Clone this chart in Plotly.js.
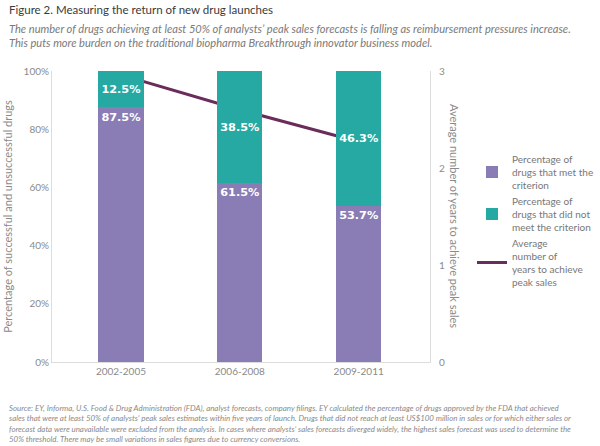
<!DOCTYPE html>
<html><head><meta charset="utf-8">
<script src="https://cdn.plot.ly/plotly-3.0.1.min.js"></script>
<style>body{margin:0;background:#fff}#c{width:600px;height:446px}</style>
</head><body><div id="c"></div>
<script>
const categories = ['2002-2005', '2006-2008', '2009-2011'];
const metCriterion = [87.5, 61.5, 53.7];
const notMetCriterion = [12.5, 38.5, 46.3];
const avgYears = [2.96, 2.6, 2.27];
const leftTicks = [0, 20, 40, 60, 80, 100];
const rightTicks = [0, 1, 2, 3];

const purple = '#8a7db6', teal = '#26a9a2', plum = '#6a2c5a';
const gray = '#8a8a8a';
const T = 71, B = 84, L = 52, R = 170, H = 446;
const ph = H - T - B;
function py(Y){ return (H - B - Y) / ph; }
function px(X){ return (X - L) / (600 - L - R); }

const barFont = {family:'DejaVu Sans', size:12, color:'#fff', weight:'bold'};
const traces = [
  {type:'bar', x:categories, y:metCriterion, yaxis:'y2', name:'Percentage of<br>drugs that met the<br>criterion',
   marker:{color:purple}, width:0.38, text:metCriterion.map(v=>v.toFixed(1)+'%'), textposition:'inside',
   textangle:0, insidetextanchor:'end', textfont:barFont, hoverinfo:'skip'},
  {type:'bar', x:categories, y:notMetCriterion, yaxis:'y2', name:'Percentage of<br>drugs that did not<br>meet the criterion',
   marker:{color:teal}, width:0.38, text:notMetCriterion.map(v=>v.toFixed(1)+'%'), textposition:'inside',
   textangle:0, insidetextanchor:'middle', textfont:barFont, hoverinfo:'skip'},
  {type:'scatter', mode:'lines', x:categories, y:avgYears, yaxis:'y', name:'Average<br>number of<br>years to achieve<br>peak sales',
   line:{color:plum, width:3}, hoverinfo:'skip'}
];

const layout = {
  width:600, height:446, margin:{l:L, r:R, t:T, b:B, autoexpand:false},
  paper_bgcolor:'#fff', plot_bgcolor:'#fff', barmode:'stack',
  font:{family:'Lato, Open Sans, sans-serif', color:gray, size:10},
  showlegend:true,
  legend:{x:px(472), y:py(146), xanchor:'left', yanchor:'top', font:{size:10, color:'#777'},
          traceorder:'normal', tracegroupgap:6, itemwidth:30, bgcolor:'rgba(0,0,0,0)'},
  xaxis:{type:'category', range:[-0.58, 2.6], showgrid:false, showline:true, linecolor:'#dddddd', linewidth:1,
         ticks:'', tickfont:{size:10, color:gray}, zeroline:false},
  yaxis:{side:'right', range:[0,3], tickvals:rightTicks, ticktext:rightTicks.map(String), showgrid:false,
         showline:true, linecolor:'#dddddd', linewidth:1, ticks:'', ticklabelstandoff:6, zeroline:false,
         tickfont:{size:10, color:gray}},
  yaxis2:{overlaying:'y', side:'left', range:[0,100], tickvals:leftTicks, ticktext:leftTicks.map(v=>v+'%'),
          showgrid:false, showline:true, linecolor:'#dddddd', linewidth:1, ticks:'', zeroline:false,
          tickfont:{size:10, color:gray},
          title:{text:'Percentage of successful and unsuccessful drugs', font:{size:11, color:gray}, standoff:8}},
  annotations:[
    {xref:'paper', yref:'paper', x:px(7), y:py(9), xanchor:'left', yanchor:'middle', showarrow:false,
     text:'Figure 2. Measuring the return of new drug launches', font:{size:11.5, color:'#3a3a3a'}},
    {xref:'paper', yref:'paper', x:px(7), y:py(35), xanchor:'left', yanchor:'middle', showarrow:false, align:'left',
     text:'<i>The number of drugs achieving at least 50% of analysts\u2019 peak sales forecasts is falling as reimbursement pressures increase.<br>This puts more burden on the traditional biopharma Breakthrough innovator business model.</i>',
     font:{size:11.1, color:'#7a7a7a'}},
    {xref:'paper', yref:'paper', x:px(455), y:py(216), xanchor:'center', yanchor:'middle', showarrow:false, textangle:90,
     text:'Average number of years to achieve peak sales', font:{size:11, color:gray}},
    {xref:'paper', yref:'paper', x:px(7), y:py(423), xanchor:'left', yanchor:'middle', showarrow:false, align:'left',
     text:'<i>Source: EY, Informa, U.S. Food &amp; Drug Administration (FDA), analyst forecasts, company filings. EY calculated the percentage of drugs approved by the FDA that achieved<br>sales that were at least 50% of analysts\u2019 peak sales estimates within five years of launch. Drugs that did not reach at least US$100 million in sales or for which either sales or<br>forecast data were unavailable were excluded from the analysis. In cases where analysts\u2019 sales forecasts diverged widely, the highest sales forecast was used to determine the<br>50% threshold. There may be small variations in sales figures due to currency conversions.</i>',
     font:{size:7.9, color:'#8a8a8a'}}
  ]
};
Plotly.newPlot('c', traces, layout, {staticPlot:true, displayModeBar:false});
</script></body></html>
